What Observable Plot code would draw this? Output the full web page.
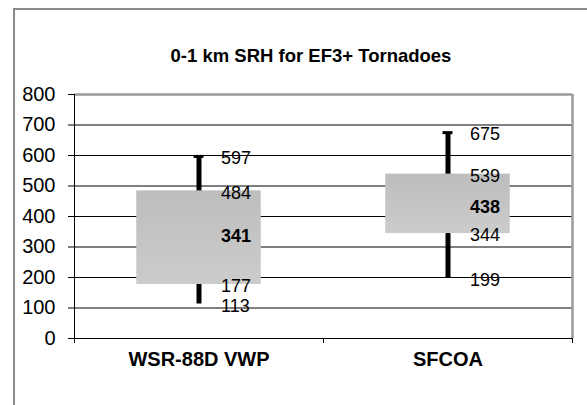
<!DOCTYPE html>
<html>
<head>
<meta charset="utf-8">
<script src="https://cdn.jsdelivr.net/npm/d3@7"></script>
<script src="https://cdn.jsdelivr.net/npm/@observablehq/plot@0.6"></script>
<style>
  html, body { margin: 0; padding: 0; background: #fff; }
  body { width: 587px; height: 405px; overflow: hidden; position: relative;
         font-family: "Liberation Sans", Arial, sans-serif; }
  #border { position: absolute; left: 13px; top: 8px; width: 640px; height: 440px;
            border: 2px solid #8a8a8a; box-sizing: border-box; pointer-events: none; z-index: 2; }
  #titlebox { position: relative; height: 80px; }
  #title { position: absolute; left: 311px; top: 56px; transform: translate(-50%, -50%);
           font-weight: bold; font-size: 18.5px; color: #000; white-space: nowrap; }
  #chart svg { display: block; background: transparent; }
</style>
</head>
<body>
<div id="border"></div>
<div id="titlebox"><div id="title">0-1 km SRH for EF3+ Tornadoes</div></div>
<div id="chart"></div>
<script>
const categories = ["WSR-88D VWP", "SFCOA"];
const minV    = [113, 199];
const q1V     = [177, 344];
const medianV = [341, 438];
const q3V     = [484, 539];
const maxV    = [597, 675];
const yTicks  = [0, 100, 200, 300, 400, 500, 600, 700, 800];

const rows = categories.map((c, i) => ({
  cat: c, i, min: minV[i], q1: q1V[i], median: medianV[i], q3: q3V[i], max: maxV[i]
}));
const labels = rows.flatMap(r => [
  {i: r.i, v: r.max, bold: false},
  {i: r.i, v: r.q3, bold: false},
  {i: r.i, v: r.median, bold: true},
  {i: r.i, v: r.q1, bold: false},
  {i: r.i, v: r.min, bold: false}
]);

const fontFamily = '"Liberation Sans", Arial, sans-serif';

const chart = Plot.plot({
  width: 587,
  height: 325,
  marginLeft: 74,
  marginRight: 15,
  marginTop: 14,
  marginBottom: 67,
  style: {fontFamily, background: "transparent", color: "#000", overflow: "visible"},
  x: {domain: [0, categories.length]},
  y: {domain: [0, 800]},
  marks: [
    Plot.gridY(yTicks.filter(t => t > 0 && t < 800), {stroke: "#000", strokeOpacity: 1, strokeWidth: 1}),
    Plot.ruleY([800], {stroke: "#9a9a9a", strokeWidth: 2.5}),
    Plot.ruleX([categories.length], {y1: 0, y2: 800, stroke: "#9a9a9a", strokeWidth: 2.5}),
    Plot.axisY({ticks: yTicks, tickSize: 6, tickFormat: () => "", stroke: "#000"}),
    Plot.text(yTicks, {y: d => d, text: d => String(d), frameAnchor: "left", dx: -19,
      textAnchor: "end", fontSize: 20, fill: "#000"}),
    Plot.axisX({ticks: d3.range(0, categories.length + 1), tickSize: 5, tickFormat: () => "", stroke: "#000"}),
    Plot.ruleX([0], {y1: 0, y2: 800, stroke: "#000", strokeWidth: 1}),
    Plot.ruleY([0], {stroke: "#000", strokeWidth: 1}),
    // whiskers
    Plot.ruleX(rows, {x: r => r.i + 0.5, y1: "min", y2: "max", stroke: "#000", strokeWidth: 5}),
    Plot.ruleY(rows, {y: "max", x1: r => r.i + 0.48, x2: r => r.i + 0.52, stroke: "#000", strokeWidth: 3}),
    // boxes
    Plot.rectY(rows, {x1: r => r.i + 0.25, x2: r => r.i + 0.75, y1: "q1", y2: "q3", fill: "url(#boxgrad)"}),
    // value labels
    Plot.text(labels.filter(d => !d.bold), {x: d => d.i + 0.5, y: "v", text: d => String(d.v), dx: 22, dy: 2,
      textAnchor: "start", fontSize: 18, fill: "#000"}),
    Plot.text(labels.filter(d => d.bold), {x: d => d.i + 0.5, y: "v", text: d => String(d.v), dx: 22, dy: 2,
      textAnchor: "start", fontSize: 18, fontWeight: "bold", fill: "#000"}),
    // category labels
    Plot.text(rows, {x: r => r.i + 0.5, text: "cat", frameAnchor: "bottom", dy: 27,
      fontSize: 20, fontWeight: "bold", fill: "#000"})
  ]
});

const defs = d3.select(chart).insert("defs", ":first-child");
const g = defs.append("linearGradient").attr("id", "boxgrad")
  .attr("x1", 0).attr("y1", 0).attr("x2", 0).attr("y2", 1);
g.append("stop").attr("offset", "0%").attr("stop-color", "#bdbdbd");
g.append("stop").attr("offset", "100%").attr("stop-color", "#cccccc");

document.getElementById("chart").appendChild(chart);
</script>
</body>
</html>
